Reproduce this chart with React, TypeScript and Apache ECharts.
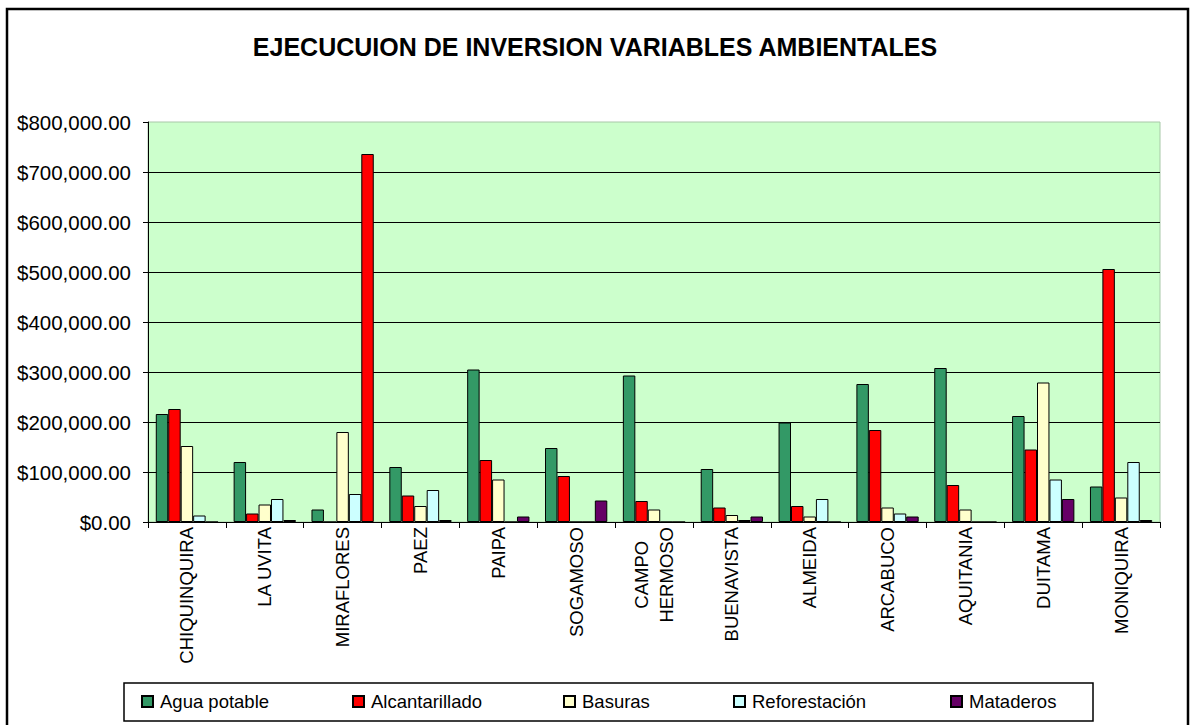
import React, { useEffect, useRef } from "react";
import * as echarts from "echarts";

const categories = [
  "CHIQUINQUIRA",
  "LA UVITA",
  "MIRAFLORES",
  "PAEZ",
  "PAIPA",
  "SOGAMOSO",
  "CAMPO\nHERMOSO",
  "BUENAVISTA",
  "ALMEIDA",
  "ARCABUCO",
  "AQUITANIA",
  "DUITAMA",
  "MONIQUIRA",
];

const seriesNames = ["Agua potable", "Alcantarillado", "Basuras", "Reforestación", "Mataderos"];

const aguaPotable = [216000, 120000, 25000, 110000, 305000, 148000, 293000, 106000, 199000, 276000, 308000, 212000, 71000];
const alcantarillado = [226000, 17000, 0, 53000, 124000, 92000, 42000, 29000, 32000, 184000, 74000, 145000, 506000];
const basuras = [152000, 35000, 180000, 32000, 85000, 0, 25000, 14000, 11000, 29000, 25000, 279000, 49000];
const reforestacion = [13000, 46000, 56000, 64000, 0, 0, 0, 4000, 46000, 17000, 0, 85000, 120000];
const mataderos = [0, 4000, 736000, 4000, 11000, 43000, 0, 11000, 0, 11000, 0, 46000, 4000];

const yMin = 0;
const yMax = 800000;
const yStep = 100000;

// In the reference, the MIRAFLORES "Mataderos" bar is drawn in red.
const redOverride = { series: "Mataderos", category: "MIRAFLORES" };

const seriesColors = ["#339966", "#FF0000", "#FFFFCC", "#CCFFFF", "#660066"];
const FONT = "'Liberation Sans', Arial, sans-serif";

function money(v: number): string {
  const s = Math.round(v).toString().replace(/\B(?=(\d{3})+(?!\d))/g, ",");
  return "$" + s + ".00";
}

export default function App() {
  const ref = useRef<HTMLDivElement>(null);

  useEffect(() => {
    document.body.style.margin = "0";
    if (!ref.current) return;
    const chart = echarts.init(ref.current, null, { renderer: "svg" });
    const values = [aguaPotable, alcantarillado, basuras, reforestacion, mataderos];
    const legendX = [141, 352, 563, 733, 950];

    const series = seriesNames.map((name, si) => ({
      name,
      type: "bar",
      barGap: "0%",
      barCategoryGap: "20%",
      itemStyle: { color: seriesColors[si], borderColor: "#000", borderWidth: 1 },
      data: values[si].map((v, ci) =>
        name === redOverride.series && categories[ci] === redOverride.category
          ? { value: v, itemStyle: { color: "#FF0000" } }
          : v
      ),
    }));

    const option = {
      animation: false,
      backgroundColor: "#fff",
      title: {
        text: "EJECUCUION DE INVERSION VARIABLES AMBIENTALES",
        left: "center",
        top: 34,
        padding: 0,
        textStyle: { fontSize: 25, fontWeight: "bold", fontFamily: FONT, color: "#000" },
      },
      grid: {
        left: 148,
        top: 122,
        width: 1012,
        height: 400,
        show: true,
        backgroundColor: "#CCFFCC",
        borderColor: "#a8c8a8",
        borderWidth: 1,
      },
      legend: seriesNames.map((n, i) => ({
        data: [n],
        left: legendX[i],
        top: 692,
        padding: 0,
        itemWidth: 11,
        itemHeight: 11,
        icon: "rect",
        selectedMode: false,
        z: 5,
        textStyle: { fontSize: 18.5, fontFamily: FONT, color: "#000", padding: [0, 0, 0, 2] },
      })),
      graphic: [
        {
          type: "rect",
          z: 1,
          shape: { x: 7, y: 9, width: 1181, height: 740 },
          style: { fill: "none", stroke: "#000", lineWidth: 2.5 },
        },
        {
          type: "rect",
          z: 1,
          shape: { x: 124, y: 683, width: 969, height: 38 },
          style: { fill: "#fff", stroke: "#000", lineWidth: 1.5 },
        },
      ],
      xAxis: {
        type: "category",
        data: categories,
        axisLine: { lineStyle: { color: "#000", width: 1 } },
        axisTick: { show: true, length: 6, lineStyle: { color: "#000" } },
        axisLabel: {
          interval: 0,
          rotate: 90,
          margin: 5,
          fontSize: 18.5,
          fontFamily: FONT,
          color: "#000",
          lineHeight: 25,
          formatter: (v: string) =>
            v.indexOf("\n") >= 0 ? v.split("\n").map((s) => "{c|" + s + "}").join("\n") : v,
          rich: {
            c: { align: "center", fontSize: 18.5, fontFamily: FONT, color: "#000", lineHeight: 25 },
          },
        },
      },
      yAxis: {
        type: "value",
        min: yMin,
        max: yMax,
        interval: yStep,
        axisLine: { show: true, lineStyle: { color: "#000", width: 1 } },
        axisTick: { show: true, length: 5, lineStyle: { color: "#000" } },
        axisLabel: {
          formatter: (v: number) => money(v),
          fontSize: 20.5,
          margin: 17,
          fontFamily: FONT,
          color: "#000",
        },
        splitLine: { show: true, showMaxLine: false, lineStyle: { color: "#000", width: 1.2 } },
      },
      series,
    };

    chart.setOption(option as any);
    return () => chart.dispose();
  }, []);

  return <div ref={ref} style={{ width: 1190, height: 725 }} />;
}
